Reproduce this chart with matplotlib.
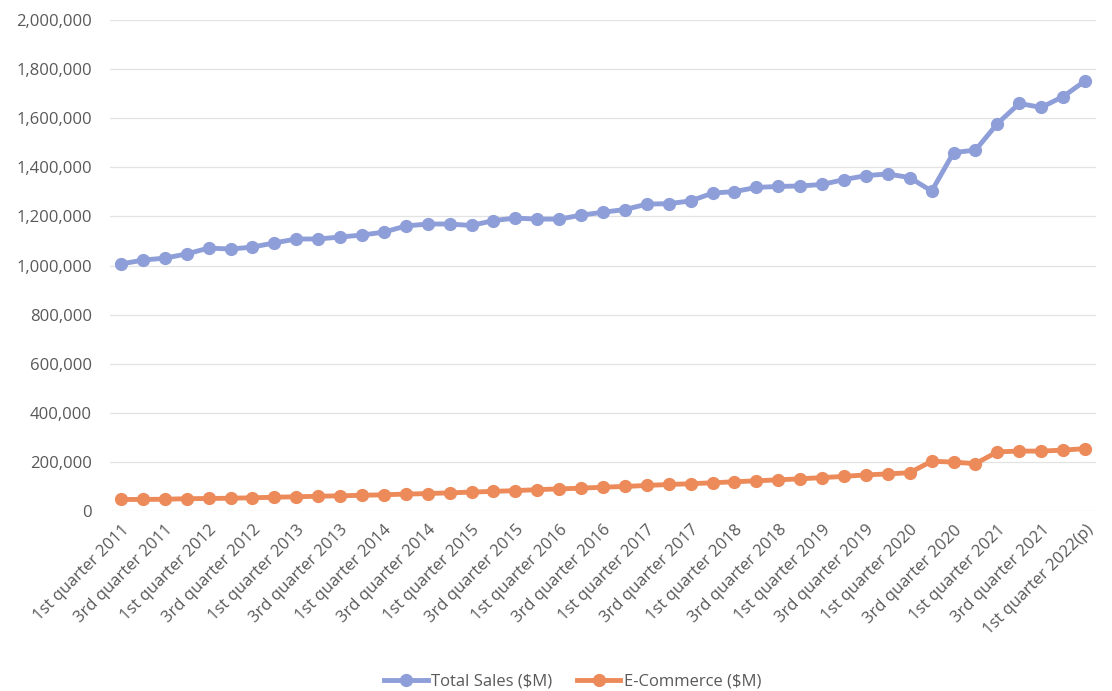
import matplotlib
matplotlib.use("Agg")
import matplotlib.pyplot as plt
from matplotlib.ticker import FuncFormatter

# Quarter categories, Q1 2011 .. Q1 2022 (preliminary)
ordinals = ["1st", "2nd", "3rd", "4th"]
quarters = [f"{o} quarter {y}" for y in range(2011, 2022) for o in ordinals]
quarters.append("1st quarter 2022(p)")

total_sales = [
    1006000, 1022000, 1030000, 1047000, 1071000, 1067000, 1075000, 1092000,
    1108000, 1108000, 1116000, 1124000, 1136000, 1161000, 1169000, 1169000,
    1163000, 1183000, 1193000, 1189000, 1189000, 1205000, 1217000, 1228000,
    1250000, 1252000, 1263000, 1295000, 1301000, 1318000, 1322000, 1324000,
    1330000, 1350000, 1366000, 1373000, 1358000, 1303000, 1460000, 1470000,
    1578000, 1660000, 1644000, 1688000, 1752000,
]
ecommerce = [
    47000, 47000, 48000, 50000, 51000, 52000, 54000, 56000,
    58000, 60000, 62000, 64000, 66000, 69000, 71000, 74000,
    77000, 80000, 83000, 87000, 90000, 93000, 97000, 100000,
    104000, 108000, 111000, 115000, 119000, 123000, 127000, 131000,
    136000, 141000, 147000, 151000, 156000, 203000, 199000, 193000,
    241000, 244000, 244000, 248000, 254000,
]

BLUE = "#8e9ed8"
ORANGE = "#ec8a5a"
TEXT = "#595959"
FONT = ["Open Sans", "DejaVu Sans"]

plt.rcParams["font.family"] = FONT

fig = plt.figure(figsize=(11.12, 6.91), dpi=100)
ax = fig.add_axes([110 / 1112, 1 - 511 / 691, (1096 - 110) / 1112, (511 - 20) / 691])

x = list(range(len(quarters)))
ax.plot(x, total_sales, color=BLUE, lw=3.5, marker="o", ms=8.5,
        label="Total Sales ($M)", zorder=3)
ax.plot(x, ecommerce, color=ORANGE, lw=3.5, marker="o", ms=8.5,
        label="E-Commerce ($M)", zorder=3)

ax.set_xlim(-0.5, len(quarters) - 0.5)
ax.set_ylim(0, 2000000)
ax.set_yticks(range(0, 2000001, 200000))
ax.yaxis.set_major_formatter(FuncFormatter(lambda v, _: f"{int(v):,}"))
ax.grid(axis="y", color="#e3e3e3", lw=0.9)
ax.set_axisbelow(True)

ax.set_xticks(x[::2])
ax.set_xticklabels(quarters[::2], rotation=45, ha="right", rotation_mode="anchor")

for side in ["top", "right", "left", "bottom"]:
    ax.spines[side].set_visible(False)
ax.tick_params(axis="both", length=0, colors=TEXT, labelsize=12)
ax.tick_params(axis="y", pad=13)
ax.tick_params(axis="x", pad=8)

leg = fig.legend(loc="lower center", bbox_to_anchor=(0.515, -0.02), ncol=2,
                 frameon=False, fontsize=12, handlelength=2.6,
                 columnspacing=1.5, handletextpad=0.2)
for t in leg.get_texts():
    t.set_color(TEXT)

fig.savefig("out.png", dpi=100)
